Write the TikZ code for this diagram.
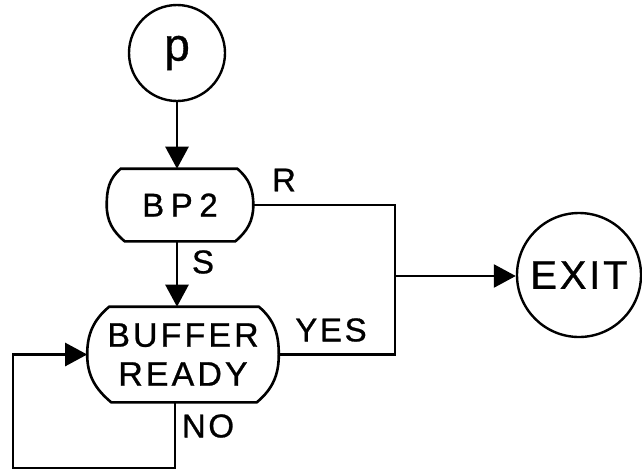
\documentclass[tikz,border=0pt]{standalone}
\usepackage{fontspec}
\setmainfont{Liberation Sans}[FakeBold=0.8]
\usetikzlibrary{arrows.meta}
\begin{document}
\begin{tikzpicture}[x=1pt,y=-1pt,
  line width=2.6pt,
  flow/.style={-{Triangle[length=22pt,width=23pt]}},
  term/.style={circle,draw,line width=2.4pt,inner sep=0pt},
  box/.style={rectangle,inner sep=0pt,align=center},
  lbl/.style={inner sep=0pt,font=\fontsize{33}{34}\selectfont\addfontfeatures{LetterSpace=8}}
]
\useasboundingbox (0,0) rectangle (642,472);
\fill[white] (0,0) rectangle (642,472);

% nodes
\node[term,minimum size=96pt,font=\fontsize{46}{48}\selectfont] (p) at (177,53) {p};
\node[box,minimum width=144pt,minimum height=70pt,
      font=\fontsize{33}{34}\selectfont\addfontfeatures{LetterSpace=20}] (bp2) at (180,205) {BP2};
\node[box,minimum width=189pt,minimum height=93pt,
      font=\fontsize{34}{39}\selectfont\addfontfeatures{LetterSpace=9}] (buf) at (183,354.5) {BUFFER\\READY};
\node[term,minimum size=124pt,font=\fontsize{40}{42}\selectfont\addfontfeatures{LetterSpace=7}] (exit) at (579,275) {EXIT};

% outlines of the rounded decision boxes
\draw (bp2.north west) ++(14,0) coordinate (bpa)
      (bp2.north east) ++(-16,0) coordinate (bpb)
      (bp2.south east) ++(-18,0) coordinate (bpc)
      (bp2.south west) ++(18,0) coordinate (bpd);
\draw (bpa) -- (bpb) to[out=-40,in=90] (bp2.east) to[out=-90,in=40] (bpc)
      -- (bpd) to[out=140,in=-90] (bp2.west) to[out=90,in=-140] (bpa) -- cycle;

\draw (buf.north west) ++(22,0) coordinate (bfa)
      (buf.north east) ++(-20,0) coordinate (bfb)
      (buf.south east) ++(-22,0) coordinate (bfc)
      (buf.south west) ++(24,0) coordinate (bfd);
\draw (bfa) -- (bfb) to[out=-40,in=90] (buf.east) to[out=-90,in=40] (bfc)
      -- (bfd) to[out=140,in=-90] (buf.west) to[out=90,in=-140] (bfa) -- cycle;

% junction and loop coordinates
\coordinate (j1) at (395,205);
\coordinate (j2) at (395,354.5);
\coordinate (jx) at (395,276);
\coordinate (c1) at (175,468);
\coordinate (c2) at (13,468);
\coordinate (c3) at (13,354.5);

% connectors
\draw[flow] (p.south) -- (p.south |- bp2.north);
\draw[flow] (p.south |- bp2.south) -- (p.south |- buf.north);
\draw (bp2.east) -- (j1) -- (j2) -- (buf.east);
\draw[flow] (jx) -- (jx -| exit.west);
\draw[flow] (c1 |- buf.south) -- (c1) -- (c2) -- (c3) -- (buf.west);

% labels
\node[lbl] (r) at (284,180) {R};
\node[lbl] (s) at (203,262) {S};
\node[lbl] (yes) at (331,330) {YES};
\node[lbl] (no) at (208,426) {NO};
\end{tikzpicture}
\end{document}
